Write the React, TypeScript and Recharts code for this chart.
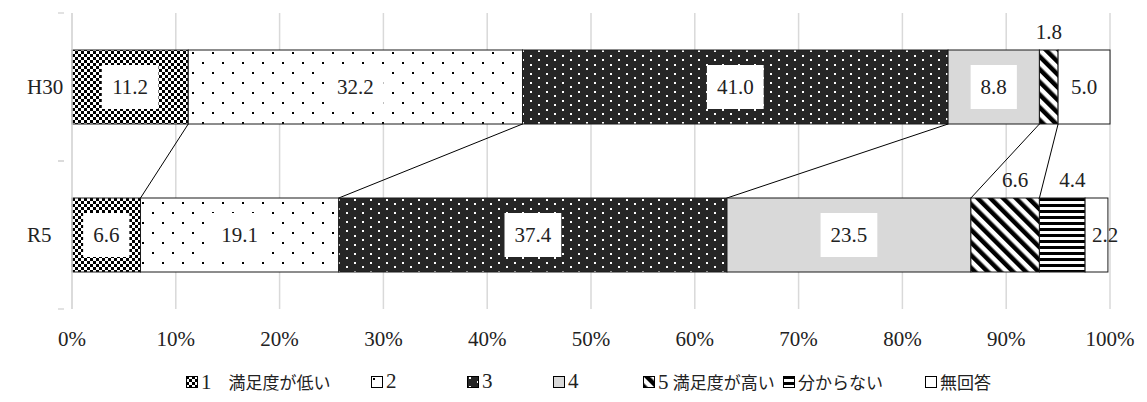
import React from "react";
import { BarChart, Bar, XAxis, YAxis, CartesianGrid, LabelList } from "recharts";

const categories = ["H30", "R5"];
const seriesNames = ["1　満足度が低い", "2", "3", "4", "5 満足度が高い", "分からない", "無回答"];
const h30Values = [11.2, 32.2, 41.0, 8.8, 1.8, 0, 5.0];
const r5Values = [6.6, 19.1, 37.4, 23.5, 6.6, 4.4, 2.2];
const xTicks = [0, 10, 20, 30, 40, 50, 60, 70, 80, 90, 100];

const valuesByCategory = [h30Values, r5Values];
const keys = seriesNames.map((_, i) => `s${i}`);
const data = categories.map((name, ci) => {
	const row: Record<string, string | number> = { name };
	keys.forEach((k, si) => {
		row[k] = valuesByCategory[ci][si];
	});
	return row;
});

const FONT = "'Liberation Serif', 'Noto Sans CJK JP', serif";
const FILLS = ["url(#p1)", "url(#p2)", "url(#p3)", "#d9d9d9", "url(#p5)", "url(#p6)", "#ffffff"];
const LABEL_MODE = ["box", "box", "box", "box", "above", "above", "plain"];
// legend item left positions (px)
const LEGEND_X = [186, 371, 467, 553, 643, 783, 925];

const cum = (arr: number[], i: number) => arr.slice(0, i + 1).reduce((a, b) => a + b, 0);

const Patterns = () => (
	<defs>
		<pattern id="p1" width="6" height="6" patternUnits="userSpaceOnUse">
			<rect width="6" height="6" fill="#fff" />
			<rect x="0" y="0" width="3" height="3" fill="#000" />
			<rect x="3" y="3" width="3" height="3" fill="#000" />
		</pattern>
		<pattern id="p2" width="20" height="20" patternUnits="userSpaceOnUse">
			<rect width="20" height="20" fill="#fff" />
			<rect x="2" y="2" width="2" height="2" fill="#000" />
			<rect x="12" y="12" width="2" height="2" fill="#000" />
		</pattern>
		<pattern id="p3" width="16" height="9" patternUnits="userSpaceOnUse">
			<rect width="16" height="9" fill="#262626" />
			<rect x="2" y="1" width="2" height="2" fill="#fff" />
			<rect x="10" y="5" width="2" height="2" fill="#fff" />
		</pattern>
		<pattern id="p5" width="9" height="9" patternUnits="userSpaceOnUse" patternTransform="rotate(-45)">
			<rect width="9" height="9" fill="#fff" />
			<rect width="4.5" height="9" fill="#000" />
		</pattern>
		<pattern id="p6" width="6" height="6" patternUnits="userSpaceOnUse">
			<rect width="6" height="6" fill="#fff" />
			<rect width="6" height="3" fill="#000" />
		</pattern>
	</defs>
);

// eslint-disable-next-line @typescript-eslint/no-explicit-any
const renderSegment = (props: any, si: number) => {
	const { x, y, width, height, index } = props;
	if (!width || width <= 0) return <g />;
	let connector = null;
	if (index === 1 && si <= 4) {
		// series line from the H30 boundary to the R5 boundary
		const v = r5Values[si];
		const k = width / v;
		const origin = x + width - k * cum(r5Values, si);
		const xTop = origin + k * cum(h30Values, si);
		connector = <line x1={xTop} y1={y - height} x2={x + width} y2={y} stroke="#000" strokeWidth={1} />;
	}
	return (
		<g>
			<rect x={x} y={y} width={width} height={height} fill={FILLS[si]} stroke="#1a1a1a" strokeWidth={1} />
			{connector}
		</g>
	);
};

const textWidth = (s: string, fs: number) => s.split("").reduce((w, c) => w + (c === "." ? 0.25 : 0.5), 0) * fs;

// eslint-disable-next-line @typescript-eslint/no-explicit-any
const renderLabel = (props: any, si: number) => {
	const { x, y, width, height, value, index } = props;
	if (!value) return null;
	const s = Number(value).toFixed(1);
	const cx = x + width / 2;
	const cy = y + height / 2;
	const fs = 21;
	const mode = LABEL_MODE[si];
	if (mode === "box") {
		const bw = textWidth(s, fs) + 20;
		return (
			<g>
				<rect x={cx - bw / 2} y={cy - 22} width={bw} height={44} fill="#fff" />
				<text x={cx} y={cy} textAnchor="middle" dominantBaseline="central" fontSize={fs} fontFamily={FONT} fill="#222">
					{s}
				</text>
			</g>
		);
	}
	if (mode === "above") {
		const dx = index === 1 ? 10 : 0;
		return (
			<text x={cx + dx} y={y - 18} textAnchor="middle" dominantBaseline="central" fontSize={fs} fontFamily={FONT} fill="#222">
				{s}
			</text>
		);
	}
	const narrow = width < 30;
	return (
		<text
			x={narrow ? x + 7 : cx}
			y={cy}
			textAnchor={narrow ? "start" : "middle"}
			dominantBaseline="central"
			fontSize={fs}
			fontFamily={FONT}
			fill="#222"
		>
			{s}
		</text>
	);
};

// eslint-disable-next-line @typescript-eslint/no-explicit-any
const YTick = (props: any) => {
	const { x, y, payload } = props;
	const off = payload && payload.offset ? payload.offset : 74;
	return (
		<g>
			<text x={27} y={y} dominantBaseline="central" fontSize={21} fontFamily={FONT} fill="#222">
				{payload.value}
			</text>
			<line x1={x - 6} y1={y - off} x2={x} y2={y - off} stroke="#d9d9d9" strokeWidth={1.5} />
			<line x1={x - 6} y1={y + off} x2={x} y2={y + off} stroke="#d9d9d9" strokeWidth={1.5} />
		</g>
	);
};

const LegendIcon = ({ si }: { si: number }) => (
	<svg width={12} height={12} style={{ marginRight: 3, flexShrink: 0 }}>
		<rect x={0.5} y={0.5} width={11} height={11} fill={FILLS[si]} stroke="#000" strokeWidth={1} />
	</svg>
);

// digits are set larger so they match the height of the Japanese glyphs
const LegendText = ({ text }: { text: string }) => (
	<span>
		{text.split("").map((c, i) => (
			<span key={i} style={{ fontSize: /[0-9]/.test(c) ? 21 : 17 }}>
				{c}
			</span>
		))}
	</span>
);

export default function App() {
	return (
		<div style={{ position: "absolute", left: 0, top: 0, width: 1147, height: 402, background: "#fff" }}>
			<BarChart
				width={1147}
				height={402}
				data={data}
				layout="vertical"
				margin={{ top: 13, right: 37, bottom: 53, left: 0 }}
				barCategoryGap="25%"
			>
				<Patterns />
				<CartesianGrid horizontal={false} vertical stroke="#d9d9d9" strokeWidth={1.5} />
				<XAxis
					type="number"
					domain={[0, 100]}
					ticks={xTicks}
					tickFormatter={(v) => `${v}%`}
					axisLine={false}
					tickLine={false}
					tickSize={0}
					tickMargin={22}
					height={40}
					tick={{ fontSize: 21, fontFamily: FONT, fill: "#222" }}
					interval={0}
				/>
				<YAxis
					type="category"
					dataKey="name"
					width={72}
					axisLine={{ stroke: "#d9d9d9", strokeWidth: 1.5 }}
					tickLine={false}
					tick={<YTick />}
				/>
				{keys.map((k, si) => (
					<Bar
						key={k}
						dataKey={k}
						name={seriesNames[si]}
						stackId="a"
						fill={FILLS[si]}
						isAnimationActive={false}
						shape={(p: any) => renderSegment(p, si)}
					>
						<LabelList dataKey={k} content={(p: any) => renderLabel(p, si)} />
					</Bar>
				))}
			</BarChart>
			<div style={{ position: "absolute", top: 369, left: 0, width: 1147, height: 26, fontFamily: FONT, color: "#222" }}>
				{seriesNames.map((n, si) => (
					<div
						key={n}
						style={{ position: "absolute", left: LEGEND_X[si], top: 0, display: "flex", alignItems: "center", whiteSpace: "pre" }}
					>
						<LegendIcon si={si} />
						<LegendText text={n} />
					</div>
				))}
			</div>
		</div>
	);
}
